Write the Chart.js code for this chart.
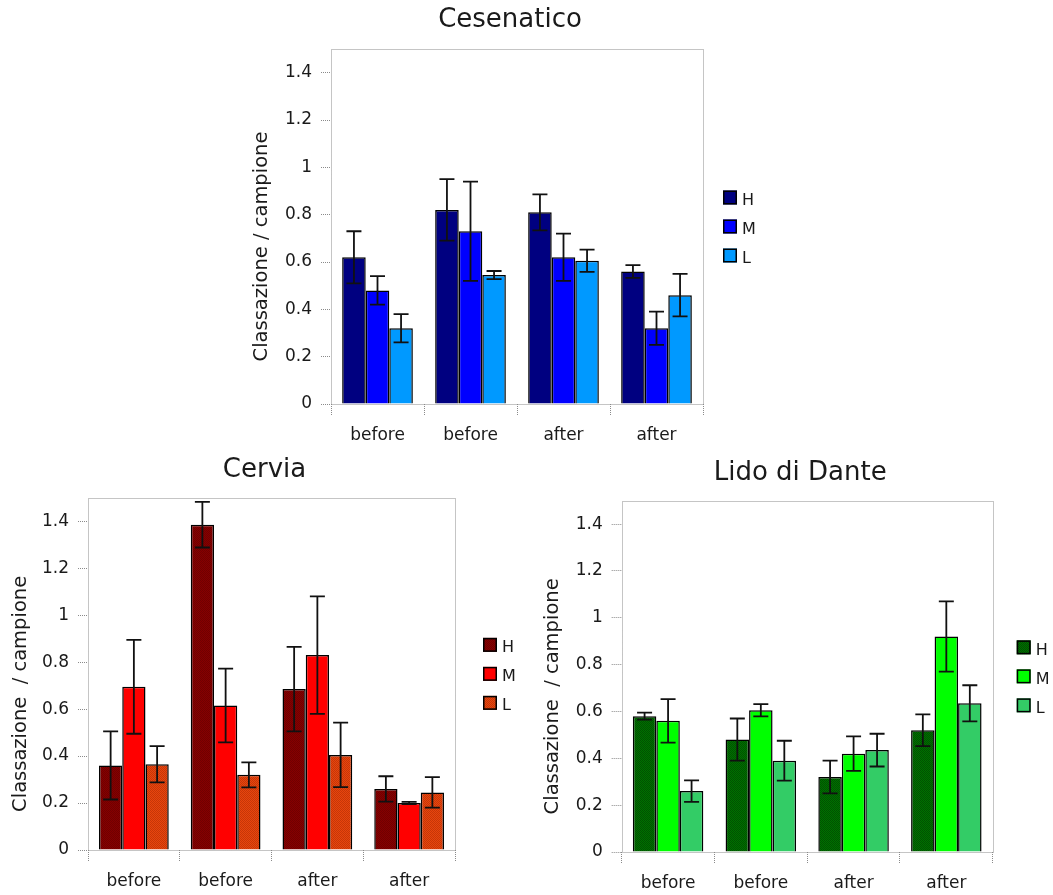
<!DOCTYPE html>
<html>
<head>
<meta charset="utf-8">
<script src="https://cdn.jsdelivr.net/npm/chart.js@4.4.1/dist/chart.umd.min.js"></script>
<style>
  html, body { margin: 0; padding: 0; background: #fff; overflow: hidden; width: 1053px; height: 895px; }
  canvas { position: absolute; }
</style>
</head>
<body>
<canvas id="cesenatico" width="560" height="455" style="left:230px;top:0px"></canvas>
<canvas id="cervia" width="529" height="455" style="left:0px;top:440px"></canvas>
<canvas id="lido" width="520" height="455" style="left:540px;top:440px"></canvas>
<script>
// shared axes
let categories = ["before", "before", "after", "after"];
let seriesNames = ["H", "M", "L"];
let yTicks = [0, 0.2, 0.4, 0.6, 0.8, 1, 1.2, 1.4];

// Cesenatico
let cesH = [0.62, 0.82, 0.81, 0.56];
let cesHErr = [0.11, 0.13, 0.076, 0.027];
let cesM = [0.48, 0.73, 0.62, 0.32];
let cesMErr = [0.06, 0.21, 0.10, 0.07];
let cesL = [0.32, 0.545, 0.605, 0.46];
let cesLErr = [0.06, 0.017, 0.047, 0.09];

// Cervia
let cerH = [0.36, 1.385, 0.685, 0.26];
let cerHErr = [0.145, 0.097, 0.18, 0.054];
let cerM = [0.695, 0.615, 0.83, 0.20];
let cerMErr = [0.20, 0.157, 0.25, 0.005];
let cerL = [0.365, 0.32, 0.405, 0.245];
let cerLErr = [0.077, 0.053, 0.137, 0.065];

// Lido di Dante
let lidH = [0.58, 0.48, 0.32, 0.52];
let lidHErr = [0.015, 0.09, 0.07, 0.068];
let lidM = [0.56, 0.605, 0.42, 0.92];
let lidMErr = [0.093, 0.026, 0.074, 0.15];
let lidL = [0.26, 0.39, 0.435, 0.635];
let lidLErr = [0.046, 0.085, 0.07, 0.077];

Chart.defaults.font.family = '"DejaVu Sans", sans-serif';
Chart.defaults.color = '#1a1a1a';

let dotted = '#8a8a8a';

// small 2x2 checker used for the textured bars
function dither(base, alt) {
  let c = document.createElement('canvas');
  c.width = 2; c.height = 2;
  let g = c.getContext('2d');
  g.fillStyle = base; g.fillRect(0, 0, 2, 2);
  g.fillStyle = alt; g.fillRect(0, 0, 1, 1); g.fillRect(1, 1, 1, 1);
  return g.createPattern(c, 'repeat');
}

// dotted box round the plot area
const plotFrame = {
  id: 'plotFrame',
  beforeDatasetsDraw(chart) {
    let {ctx, chartArea: a} = chart;
    ctx.save();
    ctx.strokeStyle = dotted;
    ctx.lineWidth = 1;
    ctx.setLineDash([1, 1]);
    ctx.strokeRect(Math.round(a.left) + 0.5, Math.round(a.top) + 0.5,
      Math.round(a.right - a.left), Math.round(a.bottom - a.top));
    ctx.restore();
  }
};

// +/- error whiskers on every bar
const errorBars = {
  id: 'errorBars',
  afterDatasetsDraw(chart) {
    let {ctx} = chart;
    let y = chart.scales.y;
    ctx.save();
    ctx.strokeStyle = '#111';
    ctx.lineWidth = 1.8;
    chart.data.datasets.forEach((ds, i) => {
      chart.getDatasetMeta(i).data.forEach((bar, j) => {
        let v = ds.data[j], e = ds.errors[j];
        let top = y.getPixelForValue(v + e);
        let bot = y.getPixelForValue(v - e);
        ctx.beginPath();
        ctx.moveTo(bar.x, top); ctx.lineTo(bar.x, bot);
        ctx.moveTo(bar.x - 7.5, top); ctx.lineTo(bar.x + 7.5, top);
        ctx.moveTo(bar.x - 7.5, bot); ctx.lineTo(bar.x + 7.5, bot);
        ctx.stroke();
      });
    });
    ctx.restore();
  }
};

// chart name, centred over the y tick marks + plot
const headTitle = {
  id: 'headTitle',
  afterDraw(chart, args, opts) {
    let {ctx, chartArea: a} = chart;
    ctx.save();
    ctx.font = '26px "DejaVu Sans"';
    ctx.fillStyle = '#1a1a1a';
    ctx.textAlign = 'center';
    ctx.textBaseline = 'middle';
    ctx.fillText(opts.text, (a.left - 14 + a.right) / 2, opts.y);
    ctx.restore();
  }
};

// rotated y title, centred over plot + category labels
const sideTitle = {
  id: 'sideTitle',
  afterDraw(chart, args, opts) {
    let {ctx, chartArea: a} = chart;
    ctx.save();
    ctx.translate(opts.x, (a.top + a.bottom + 40) / 2);
    ctx.rotate(-Math.PI / 2);
    ctx.font = '19.5px "DejaVu Sans"';
    ctx.fillStyle = '#1a1a1a';
    ctx.textAlign = 'center';
    ctx.textBaseline = 'middle';
    ctx.fillText(opts.text, 0, 0);
    ctx.restore();
  }
};

// H / M / L key to the right of the plot
const keyBoxes = {
  id: 'keyBoxes',
  afterDraw(chart, args, opts) {
    let {ctx, chartArea: a} = chart;
    let n = chart.data.datasets.length;
    let cy = (a.top + a.bottom) / 2;
    let x = a.right + opts.dx;
    ctx.save();
    ctx.font = '16px "DejaVu Sans"';
    ctx.textBaseline = 'middle';
    chart.data.datasets.forEach((ds, i) => {
      let yc = cy + (i - (n - 1) / 2) * 29;
      let s = opts.size;
      ctx.fillStyle = ds.backgroundColor;
      ctx.fillRect(x, yc - s / 2, s, s);
      ctx.strokeStyle = '#000';
      ctx.lineWidth = 1.5;
      ctx.strokeRect(x + 0.75, yc - s / 2 + 0.75, s - 1.5, s - 1.5);
      ctx.fillStyle = '#1a1a1a';
      ctx.fillText(ds.label, x + s + 5, yc + 3);
    });
    ctx.restore();
  }
};

function siteChart(id, title, yTitle, values, errors, colors, lay) {
  let ctx = document.getElementById(id).getContext('2d');
  return new Chart(ctx, {
    type: 'bar',
    data: {
      labels: categories,
      datasets: seriesNames.map((name, i) => ({
        label: name,
        data: values[i],
        errors: errors[i],
        backgroundColor: colors[i],
        borderColor: '#000',
        borderWidth: 1.5,
        inflateAmount: 0,
        categoryPercentage: 0.76,
        barPercentage: 1.0
      }))
    },
    options: {
      responsive: false,
      animation: false,
      events: [],
      layout: {
        padding: { left: 0, right: lay.padRight, top: lay.padTop, bottom: 0 }
      },
      plugins: {
        legend: { display: false },
        tooltip: { enabled: false },
        title: { display: false },
        headTitle: { text: title, y: lay.titleY },
        sideTitle: { text: yTitle, x: lay.yTitleX },
        keyBoxes: { dx: lay.keyDx, size: 14 }
      },
      scales: {
        x: {
          grid: {
            offset: true,
            drawOnChartArea: false,
            tickLength: 11,
            tickColor: dotted,
            tickBorderDash: [1, 1]
          },
          border: { display: false },
          ticks: { font: { size: 17 }, padding: 10, maxRotation: 0, autoSkip: false },
          afterFit: s => { s.height = lay.xHeight; }
        },
        y: {
          min: 0,
          max: 1.5,
          grid: {
            drawOnChartArea: false,
            tickLength: 10,
            tickColor: dotted,
            tickBorderDash: [1, 1]
          },
          border: { display: false },
          ticks: {
            font: { size: 17 },
            padding: 9,
            callback: v => String(Number(v.toFixed(1)))
          },
          afterBuildTicks: s => { s.ticks = yTicks.map(v => ({ value: v })); },
          afterFit: s => { s.width = lay.yWidth; }
        }
      }
    },
    plugins: [plotFrame, errorBars, headTitle, sideTitle, keyBoxes]
  });
}

siteChart('cesenatico', 'Cesenatico', 'Classazione / campione',
  [cesH, cesM, cesL], [cesHErr, cesMErr, cesLErr],
  ['#000080', '#0000ff', '#0099ff'],
  { yWidth: 101, padRight: 87, padTop: 49, titleY: 20, xHeight: 51, yTitleX: 32, keyDx: 20 });

siteChart('cervia', 'Cervia', 'Classazione  / campione',
  [cerH, cerM, cerL], [cerHErr, cerMErr, cerLErr],
  [dither('#860000', '#700000'), '#ff0000', dither('#e8460e', '#c63608')],
  { yWidth: 88, padRight: 74, padTop: 57.7, titleY: 30, xHeight: 45, yTitleX: 21, keyDx: 28 });

siteChart('lido', 'Lido di Dante', 'Classazione  / campione',
  [lidH, lidM, lidL], [lidHErr, lidMErr, lidLErr],
  [dither('#007000', '#005200'), '#00ff00', '#33cc66'],
  { yWidth: 81.7, padRight: 67.3, padTop: 60.7, titleY: 33, xHeight: 43, yTitleX: 13, keyDx: 24 });
</script>
</body>
</html>
